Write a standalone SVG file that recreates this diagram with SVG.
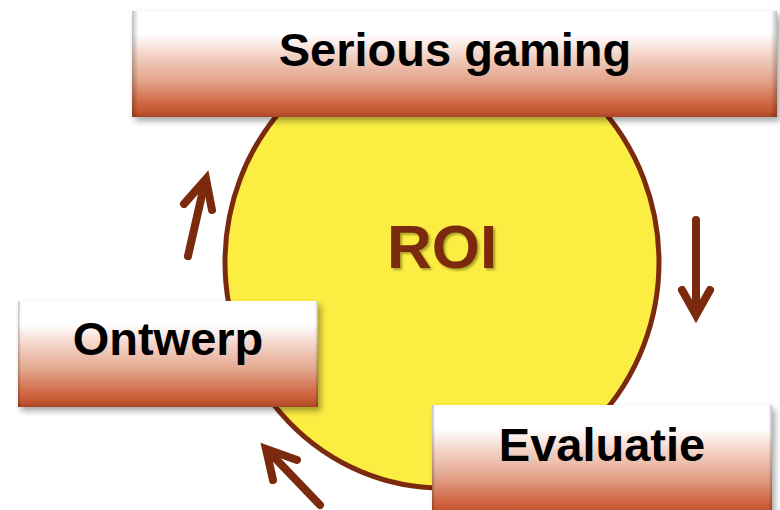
<svg xmlns="http://www.w3.org/2000/svg" width="780" height="510" viewBox="0 0 780 510">
  <defs>
    <linearGradient id="boxGrad" x1="0" y1="0" x2="0" y2="1">
      <stop offset="0" stop-color="#ffffff"/>
      <stop offset="0.22" stop-color="#ffffff"/>
      <stop offset="0.42" stop-color="#f3d2c5"/>
      <stop offset="0.65" stop-color="#e3a58c"/>
      <stop offset="0.86" stop-color="#d16a47"/>
      <stop offset="0.95" stop-color="#c2562f"/>
      <stop offset="1" stop-color="#a9452a"/>
    </linearGradient>
    <linearGradient id="edgeGrad" x1="0" y1="0" x2="1" y2="0">
      <stop offset="0" stop-color="#000000" stop-opacity="0.25"/>
      <stop offset="0.01" stop-color="#000000" stop-opacity="0"/>
      <stop offset="0.99" stop-color="#000000" stop-opacity="0"/>
      <stop offset="1" stop-color="#000000" stop-opacity="0.25"/>
    </linearGradient>
    <filter id="shadow" x="-5%" y="-10%" width="115%" height="130%">
      <feDropShadow dx="3" dy="4" stdDeviation="3" flood-color="#000000" flood-opacity="0.35"/>
    </filter>
    <filter id="textShadow" x="-10%" y="-10%" width="130%" height="130%">
      <feDropShadow dx="2" dy="2" stdDeviation="1" flood-color="#707010" flood-opacity="0.6"/>
    </filter>
  </defs>
  <style>
    .box { fill: url(#boxGrad); filter: url(#shadow); }
    .edge { fill: url(#edgeGrad); }
    .label { font-family: "Liberation Sans", Arial, sans-serif; font-weight: bold; font-size: 47px; fill: #000000; text-anchor: middle; }
    .arrow { fill: none; stroke: #7b2a0e; stroke-width: 8; }
    .shaft { stroke-linecap: round; }
    .head { stroke-linecap: round; stroke-linejoin: miter; stroke-miterlimit: 10; }
  </style>
  <rect width="780" height="510" fill="#ffffff"/>

  <g id="roi">
    <ellipse cx="442" cy="262" rx="217" ry="226" fill="#fced42" stroke="#7b2a0e" stroke-width="5"/>
    <text x="442" y="268" font-family="Liberation Sans, Arial, sans-serif" font-weight="bold" font-size="62" fill="#7b2a0e" text-anchor="middle" filter="url(#textShadow)">ROI</text>
  </g>

  <g id="connectors">
    <path class="arrow shaft" d="M188 256 L204 186"/>
    <path class="arrow head" d="M184 204 L206 179 L212 210"/>
    <path class="arrow shaft" d="M696 220 L696 312"/>
    <path class="arrow head" d="M682 290 L696 315 L710 290"/>
    <path class="arrow shaft" d="M320 505 L272 455"/>
    <path class="arrow head" d="M273 480 L266 449 L297 460"/>
  </g>

  <g id="serious-gaming">
    <rect class="box" x="132" y="11" width="645" height="106"/>
    <rect class="edge" x="132" y="11" width="645" height="106"/>
    <text class="label" x="455" y="66">Serious gaming</text>
  </g>

  <g id="ontwerp">
    <rect class="box" x="18" y="301" width="300" height="106"/>
    <rect class="edge" x="18" y="301" width="300" height="106"/>
    <text class="label" x="168" y="355">Ontwerp</text>
  </g>

  <g id="evaluatie">
    <rect class="box" x="432" y="405" width="340" height="110"/>
    <rect class="edge" x="432" y="405" width="340" height="110"/>
    <text class="label" x="602" y="461">Evaluatie</text>
  </g>
</svg>
